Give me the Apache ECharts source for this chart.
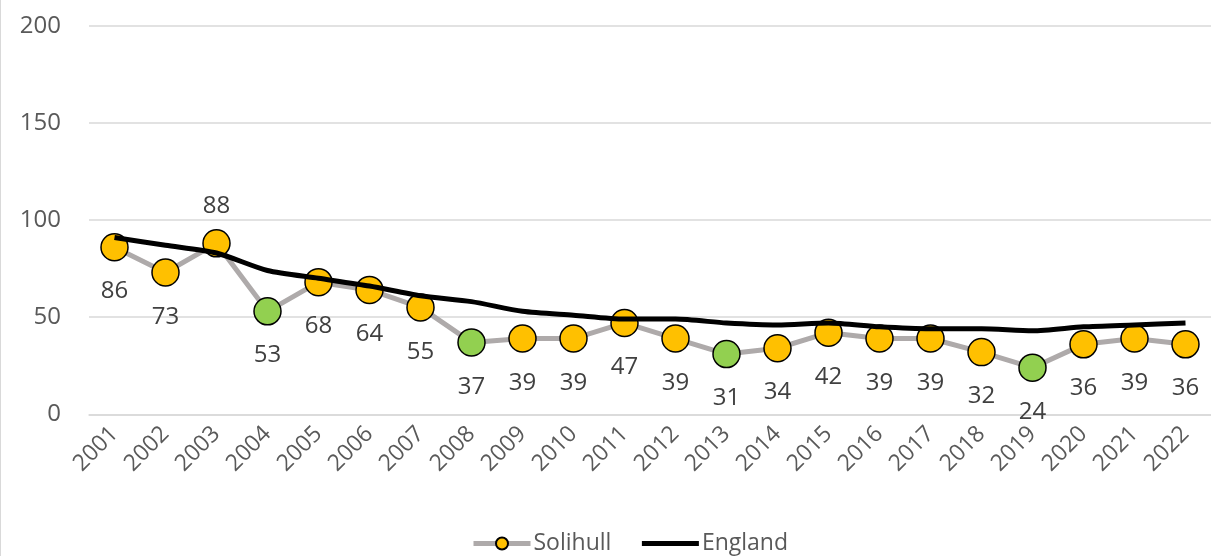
<!DOCTYPE html>
<html>
<head>
<meta charset="utf-8">
<script src="https://cdn.jsdelivr.net/npm/echarts@6/dist/echarts.min.js"></script>
<style>
html,body{margin:0;padding:0;background:#fff;}
#c{width:1211px;height:556px;}
</style>
</head>
<body>
<div id="c"></div>
<script>
const years = ['2001','2002','2003','2004','2005','2006','2007','2008','2009','2010','2011','2012','2013','2014','2015','2016','2017','2018','2019','2020','2021','2022'];
const solihull = [86,73,88,53,68,64,55,37,39,39,47,39,31,34,42,39,39,32,24,36,39,36];
const solihullGreen = ['2004','2008','2013','2019'];
const labelAbove = ['2003'];
const england = [91,87,83,74,70,66,61,58,53,51,49,49,47,46,47,45,44,44,43,45,46,47];
const yTicks = [0,50,100,150,200];

const FONT = '"Open Sans", "Noto Sans", sans-serif';
const YELLOW = '#FFC000', GREEN = '#92D050';

const solData = solihull.map((v,i)=>({
  value: v,
  itemStyle: {color: solihullGreen.includes(years[i]) ? GREEN : YELLOW},
  label: labelAbove.includes(years[i]) ? {position:'top', distance: 11} : {position:'bottom', distance: 18}
}));

const chart = echarts.init(document.getElementById('c'), null, {renderer:'canvas'});
chart.setOption({
  animation: false,
  backgroundColor: '#fff',
  textStyle: {fontFamily: FONT},
  grid: {left: 89, right: -11, top: 25.7, bottom: 141.7, containLabel: false},
  graphic: [{type:'line', shape:{x1:0.5,y1:0,x2:0.5,y2:556}, style:{stroke:'#D9D9D9', lineWidth:1}}],
  legend: {
    top: 527, left: 466,
    itemWidth: 57, itemHeight: 15, itemGap: 28,
    lineStyle: {width: 5},
    textStyle: {fontFamily: FONT, fontSize: 23, color: '#595959', padding:[0,0,0,-2]},
    data: [
      {name: 'Solihull'},
      {name: 'England', itemStyle: {opacity: 0, borderWidth: 0}}
    ]
  },
  xAxis: {
    type: 'category', data: years, boundaryGap: true,
    axisLine: {show: true, lineStyle: {color: '#D9D9D9', width: 1.5}},
    axisTick: {show: false},
    axisLabel: {rotate: 45, margin: 16, fontFamily: FONT, fontSize: 23, color: '#595959', interval: 0}
  },
  yAxis: {
    type: 'value', min: yTicks[0], max: yTicks[yTicks.length-1], interval: 50,
    axisLine: {show: false}, axisTick: {show: false},
    splitLine: {lineStyle: {color: '#D9D9D9', width: 1.5}},
    axisLabel: {margin: 28, fontFamily: FONT, fontSize: 24, color: '#595959'}
  },
  series: [
    {
      name: 'Solihull', type: 'line', data: solData, z: 2,
      symbol: 'circle', symbolSize: 27,
      lineStyle: {color: '#AEAAAA', width: 5},
      itemStyle: {color: YELLOW, borderColor: '#000', borderWidth: 1.5},
      label: {show: true, fontFamily: FONT, fontSize: 24, color: '#404040'},
      emphasis: {disabled: true}
    },
    {
      name: 'England', type: 'line', data: england, z: 3,
      symbol: 'none', smooth: 0.25,
      lineStyle: {color: '#000', width: 5},
      itemStyle: {color: '#000'},
      emphasis: {disabled: true}
    }
  ]
});
</script>
</body>
</html>
